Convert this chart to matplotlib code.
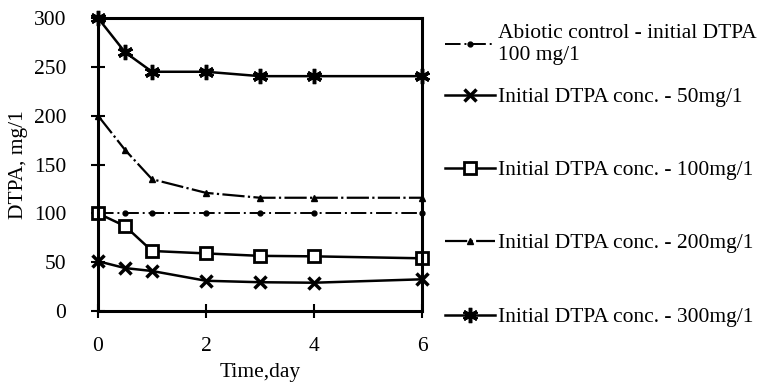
import matplotlib
matplotlib.use("Agg")
import matplotlib.pyplot as plt

plt.rcParams['font.family'] = ['Liberation Serif', 'DejaVu Serif']

time_day = [0, 0.5, 1, 2, 3, 4, 6]
abiotic_100 = [100, 100, 100, 100, 100, 100, 100]
conc_50 = [51, 44, 41, 31, 29.5, 29, 32.5]
conc_100 = [100, 87, 61.5, 59, 56.5, 56, 54]
conc_200 = [200, 165, 135, 121, 116, 116, 116]
conc_300 = [300, 265, 245, 245, 240.5, 240.5, 240.5]

labels = ["Abiotic control - initial DTPA\n100 mg/1",
          "Initial DTPA conc. - 50mg/1",
          "Initial DTPA conc. - 100mg/1",
          "Initial DTPA conc. - 200mg/1",
          "Initial DTPA conc. - 300mg/1"]

fs = 15.5

fig = plt.figure(figsize=(7.57, 3.84), dpi=100)
ax = fig.add_axes([0.1295, 0.190, 0.428, 0.763])

lw = 1.8
l_ab, = ax.plot(time_day, abiotic_100, color='black', lw=1.4, ls=(0, (8, 2, 1, 2)),
                marker='o', ms=3.5, clip_on=False)
l_50, = ax.plot(time_day, conc_50, color='black', lw=lw, marker='x', ms=9, mew=2.5, clip_on=False)
l_100, = ax.plot(time_day, conc_100, color='black', lw=lw, marker='s', ms=9, mew=2,
                 mfc='white', clip_on=False)
l_200, = ax.plot(time_day, conc_200, color='black', lw=1.6, ls=(0, (10, 1.5, 1, 1.5)),
                 marker='^', ms=4, clip_on=False)
l_300, = ax.plot(time_day, conc_300, color='black', lw=lw, marker=(6, 2, 0), ms=11, mew=2.5,
                 clip_on=False)

ax.set_xlim(0, 6)
ax.set_ylim(0, 300)
ax.set_xticks([0, 2, 4, 6])
ax.set_yticks([0, 50, 100, 150, 200, 250, 300])
ax.tick_params(direction='inout', length=10, width=1.5, labelsize=fs)
ax.tick_params(axis='y', pad=18)
ax.tick_params(axis='x', pad=14)
for s in ax.spines.values():
    s.set_linewidth(2.2)
ax.set_xlabel("Time,day", fontsize=fs, labelpad=5)
ax.set_ylabel("DTPA, mg/1", fontsize=fs, labelpad=4)

handles = [l_ab, l_50, l_100, l_200, l_300]
ys = [0.885, 0.747, 0.557, 0.367, 0.174]
for h, lab, y in zip(handles, labels, ys):
    fig.legend(handles=[h], labels=[lab], loc='center left', bbox_to_anchor=(0.588, y),
               frameon=False, fontsize=fs, handlelength=2.3, handletextpad=0.14,
               borderpad=0, borderaxespad=0, labelspacing=0)

fig.savefig("out.png", dpi=100)
